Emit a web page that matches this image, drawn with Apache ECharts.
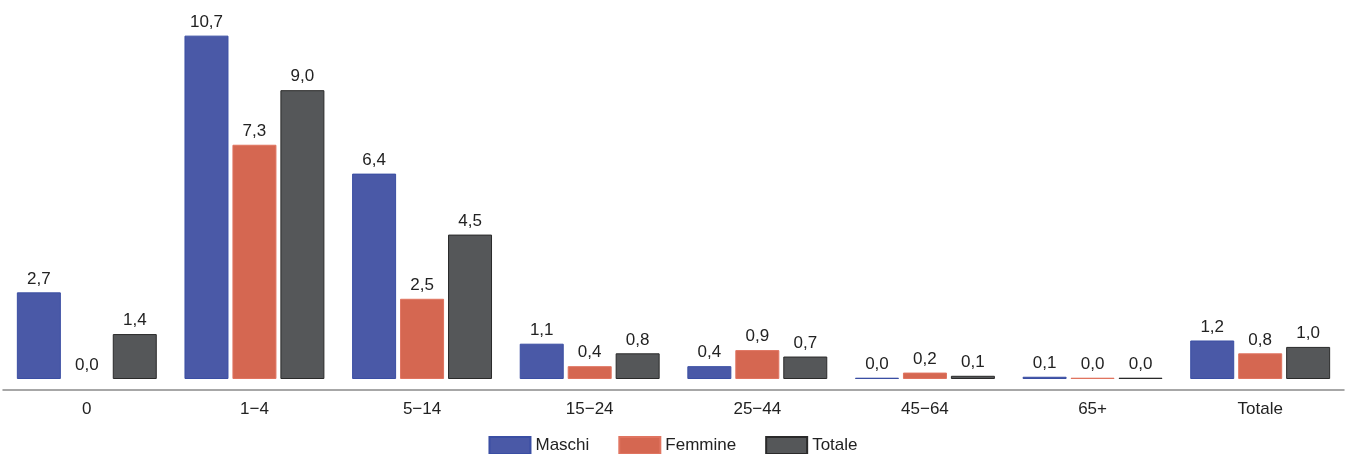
<!DOCTYPE html>
<html>
<head>
<meta charset="utf-8">
<script src="https://cdn.jsdelivr.net/npm/echarts@6/dist/echarts.min.js"></script>
<style>
html,body{margin:0;padding:0;background:#fff;}
#chart{width:1346px;height:454px;}
</style>
</head>
<body>
<div id="chart"></div>
<script>
const categories = ['0', '1\u22124', '5\u221214', '15\u221224', '25\u221244', '45\u221264', '65+', 'Totale'];
const maschi  = [2.7, 10.7, 6.4, 1.1, 0.4, 0.04, 0.07, 1.2];
const femmine = [0.0, 7.3, 2.5, 0.4, 0.9, 0.2, 0.04, 0.8];
const totale  = [1.4, 9.0, 4.5, 0.8, 0.7, 0.1, 0.04, 1.0];

const FONT = 'Liberation Sans, Arial, sans-serif';
const chart = echarts.init(document.getElementById('chart'));
const fmt = p => p.value.toFixed(1).replace('.', ',');
const labelCfg = {show: true, position: 'top', distance: 5, formatter: fmt,
  color: '#222', fontSize: 17, fontFamily: FONT};
function s(name, data, fill, border) {
  return {name, type: 'bar',
    data: data.map(v => v === 0 ? {value: v, itemStyle: {borderWidth: 0}} : v),
    barWidth: 44, barGap: '9%',
    itemStyle: {color: fill, borderColor: border, borderWidth: 1},
    label: labelCfg, emphasis: {disabled: true}};
}
chart.setOption({
  animation: false,
  grid: {left: 3, right: 2, top: 26, bottom: 75},
  legend: {
    top: 431, left: 'center', icon: 'rect', itemWidth: 41, itemHeight: 17, itemGap: 29,
    textStyle: {fontSize: 17, color: '#222', fontFamily: FONT},
    data: ['Maschi', 'Femmine', 'Totale']
  },
  xAxis: {
    type: 'category', data: categories, offset: 11,
    axisLine: {onZero: false, lineStyle: {color: '#8a8a8a', width: 1.5}},
    axisTick: {alignWithLabel: true, length: 6, lineStyle: {color: '#333'}},
    axisLabel: {fontSize: 17, color: '#222', margin: 11, fontFamily: FONT}
  },
  yAxis: {type: 'value', min: 0, max: 11, show: false, splitLine: {show: false}},
  series: [
    s('Maschi', maschi, '#4a59a7', '#3a4ea3'),
    s('Femmine', femmine, '#d56751', '#e07460'),
    s('Totale', totale, '#555759', '#2a2a2a')
  ]
});
</script>
</body>
</html>
